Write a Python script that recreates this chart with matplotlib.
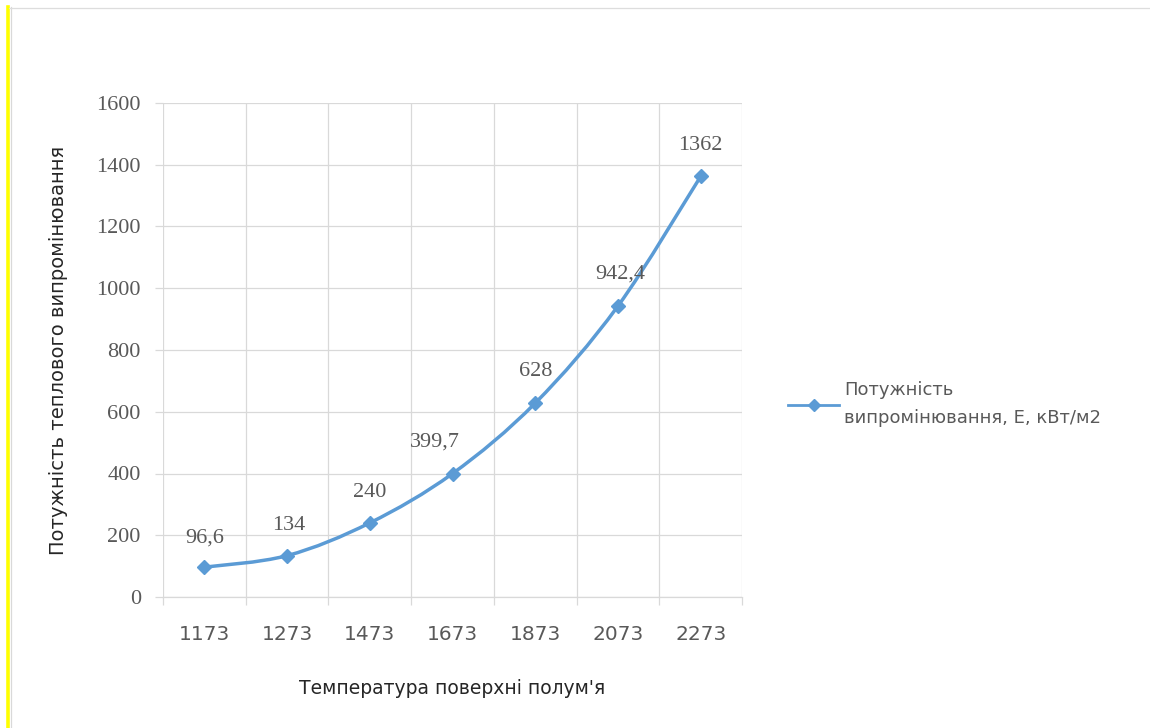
import matplotlib
matplotlib.use("Agg")
import matplotlib.pyplot as plt
from matplotlib.path import Path
from matplotlib.patches import PathPatch
from matplotlib.lines import Line2D
import numpy as np

# Chart data
temperatures = ["1173", "1273", "1473", "1673", "1873", "2073", "2273"]
power = [96.6, 134, 240, 399.7, 628, 942.4, 1362]
value_labels = ["96,6", "134", "240", "399,7", "628", "942,4", "1362"]
y_ticks = [0, 200, 400, 600, 800, 1000, 1200, 1400, 1600]

series_name = "Потужність\nвипромінювання, Е, кВт/м2"
x_title = "Температура поверхні полум'я"
y_title = "Потужність теплового випромінювання"

LINE = "#5B9BD5"
GRID = "#D9D9D9"
TEXT = "#595959"

fig = plt.figure(figsize=(11.5, 7.28), dpi=100)
fig.patch.set_facecolor("white")

# frame decorations: yellow strip on the left, thin grey borders
fig.add_artist(Line2D([8 / 1150, 8 / 1150], [0, 1 - 7 / 728],
                      color="#FFFF00", lw=2.6, transform=fig.transFigure))
fig.add_artist(Line2D([10.5 / 1150, 10.5 / 1150], [0, 1 - 7 / 728],
                      color="#D9D9D9", lw=0.9, transform=fig.transFigure))
fig.add_artist(Line2D([9 / 1150, 1], [1 - 7.5 / 728, 1 - 7.5 / 728],
                      color="#DDDDDD", lw=0.9, transform=fig.transFigure))

ax = fig.add_axes([163 / 1150, 1 - 597 / 728, (742 - 163) / 1150, (597 - 103) / 728])
x = np.arange(len(temperatures))

ax.set_xlim(-0.5, len(temperatures) - 0.5)
ax.set_ylim(0, 1600)

# gridlines and ticks
ax.set_yticks(y_ticks)
ax.set_yticklabels([str(v) for v in y_ticks], family="Liberation Serif",
                   fontsize=16, color=TEXT)
ax.yaxis.grid(True, color=GRID, lw=0.9)
ax.set_xticks(x)
ax.set_xticklabels(temperatures, family="DejaVu Sans", fontsize=14.5, color=TEXT)
ax.set_xticks(np.arange(-0.5, len(temperatures)), minor=True)
ax.xaxis.grid(True, which="minor", color=GRID, lw=0.9)
ax.tick_params(axis="x", which="major", length=0, pad=20)
ax.tick_params(axis="x", which="minor", length=6, color=GRID, width=0.9)
ax.tick_params(axis="y", length=6, color=GRID, width=0.9, pad=10)
for s in ["top", "right", "left"]:
    ax.spines[s].set_visible(False)
ax.spines["bottom"].set_color(GRID)
ax.spines["bottom"].set_linewidth(0.9)
ax.set_axisbelow(True)

# smoothed connecting curve (cubic Bezier through the data points)
pts = np.column_stack([x, power]).astype(float)
verts = [tuple(pts[0])]
codes = [Path.MOVETO]
n = len(pts)
for i in range(n - 1):
    p0 = pts[i - 1] if i > 0 else pts[i]
    p1 = pts[i]
    p2 = pts[i + 1]
    p3 = pts[i + 2] if i + 2 < n else pts[i + 1]
    c1 = p1 + (p2 - p0) / 6.0
    c2 = p2 - (p3 - p1) / 6.0
    verts += [tuple(c1), tuple(c2), tuple(p2)]
    codes += [Path.CURVE4] * 3
ax.add_patch(PathPatch(Path(verts, codes), facecolor="none", edgecolor=LINE,
                       lw=2.5, capstyle="round", joinstyle="round", zorder=3))
ax.plot(x, power, linestyle="none", marker="D", markersize=7.5, color=LINE, zorder=4)

# value labels above the points
offsets = [(0, 21), (1.5, 22), (0, 22), (-13, 23), (0, 22.5), (1.5, 23), (0, 22)]
for xi, yi, lab, off in zip(x, power, value_labels, offsets):
    ax.annotate(lab, (xi, yi), xytext=off, textcoords="offset points",
                ha="center", va="center", family="Liberation Serif",
                fontsize=16, color=TEXT)

ax.set_xlabel(x_title, family="DejaVu Sans", fontsize=13.5,
              color="#262626", labelpad=25)
ax.set_ylabel(y_title, family="DejaVu Sans", fontsize=14,
              color="#262626", labelpad=20)

# legend
handle = Line2D([], [], color=LINE, lw=2, marker="D", markersize=6)
leg = fig.legend([handle], [series_name], loc="center left",
                 bbox_to_anchor=(772 / 1150, 1 - 404 / 728), frameon=False,
                 handlelength=2.8, handletextpad=0.3,
                 prop={"family": "DejaVu Sans", "size": 13})
for t in leg.get_texts():
    t.set_color(TEXT)
    t.set_linespacing(1.65)

fig.savefig("out.png", dpi=100, facecolor="white")
